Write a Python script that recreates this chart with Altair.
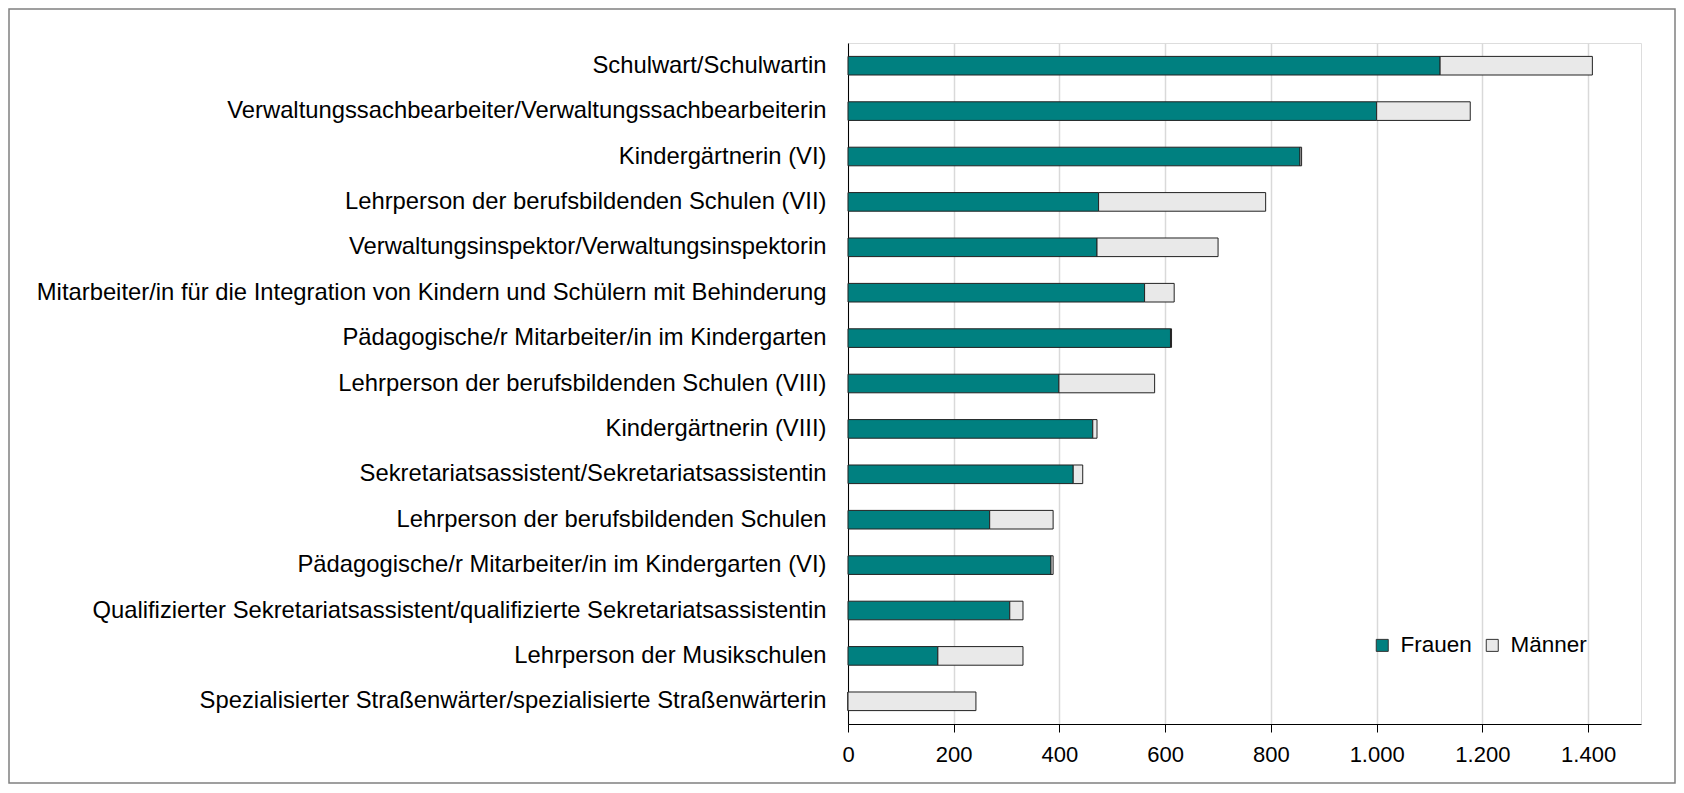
import altair as alt
import pandas as pd

categories = [
    "Schulwart/Schulwartin",
    "Verwaltungssachbearbeiter/Verwaltungssachbearbeiterin",
    "Kindergärtnerin (VI)",
    "Lehrperson der berufsbildenden Schulen (VII)",
    "Verwaltungsinspektor/Verwaltungsinspektorin",
    "Mitarbeiter/in für die Integration von Kindern und Schülern mit Behinderung",
    "Pädagogische/r Mitarbeiter/in im Kindergarten",
    "Lehrperson der berufsbildenden Schulen (VIII)",
    "Kindergärtnerin (VIII)",
    "Sekretariatsassistent/Sekretariatsassistentin",
    "Lehrperson der berufsbildenden Schulen",
    "Pädagogische/r Mitarbeiter/in im Kindergarten (VI)",
    "Qualifizierter Sekretariatsassistent/qualifizierte Sekretariatsassistentin",
    "Lehrperson der Musikschulen",
    "Spezialisierter Straßenwärter/spezialisierte Straßenwärterin",
]
frauen = [1120, 1000, 855, 474, 471, 561, 610, 399, 463, 426, 268, 384, 306, 170, 0]
maenner = [288, 177, 3, 316, 229, 56, 2, 181, 8, 18, 120, 4, 25, 161, 242]
series = ["Frauen", "Männer"]
colors = ["#008080", "#E9E9E9"]
ticks = [0, 200, 400, 600, 800, 1000, 1200, 1400]

rows = []
for c, f, m in zip(categories, frauen, maenner):
    rows.append({"Beruf": c, "Geschlecht": "Frauen", "Anzahl": f, "ord": 0})
    rows.append({"Beruf": c, "Geschlecht": "Männer", "Anzahl": m, "ord": 1})
df = pd.DataFrame(rows)

W, H = 793, 681
PL, PT, PR, PB = 840, 35, 35, 60
FONT = "Liberation Sans"

bars = alt.Chart(df).mark_bar(stroke="#222222", strokeWidth=1).encode(
    y=alt.Y("Beruf:N", sort=categories, title=None,
            scale=alt.Scale(paddingInner=0.59, paddingOuter=0.295),
            axis=alt.Axis(ticks=False, labelPadding=22, labelLimit=1000,
                          labelFontSize=23.8, labelFont=FONT, labelColor="black",
                          domainColor="black", domainWidth=1, grid=False)),
    x=alt.X("Anzahl:Q", stack="zero", title=None,
            scale=alt.Scale(domain=[0, 1500], nice=False),
            axis=alt.Axis(values=ticks, tickSize=8, tickColor="black", tickWidth=1,
                          domainColor="black", domainWidth=1, labelFlush=False,
                          labelFontSize=22, labelFont=FONT, labelColor="black",
                          labelPadding=12, gridColor="#D9D9D9", gridWidth=1.5,
                          labelExpr="replace(format(datum.value, ','), ',', '.')")),
    color=alt.Color("Geschlecht:N", scale=alt.Scale(domain=series, range=colors),
                    legend=alt.Legend(title=None, orient="none", legendX=523, legendY=591,
                                      direction="horizontal", symbolType="square",
                                      symbolSize=144, symbolStrokeColor="#333333",
                                      symbolStrokeWidth=1, labelFontSize=22.5,
                                      labelFont=FONT, labelColor="black",
                                      labelOffset=7, columnPadding=9)),
    order=alt.Order("ord:Q"),
)

border = alt.Chart(pd.DataFrame({"a": [0]})).mark_rect(
    fill="transparent", stroke="#808080", strokeWidth=1.5
).encode(
    x=alt.value(-PL + 1), x2=alt.value(W + PR - 1),
    y=alt.value(-PT + 1), y2=alt.value(H + PB - 1),
)

chart = alt.layer(bars, border).properties(
    width=W, height=H,
    autosize=alt.AutoSizeParams(type="none"),
    padding={"left": PL, "top": PT, "right": PR, "bottom": PB},
).configure_view(strokeWidth=0, stroke="transparent").configure(background="white")

chart.save("out.html", embed_options={"renderer": "svg", "actions": False})
